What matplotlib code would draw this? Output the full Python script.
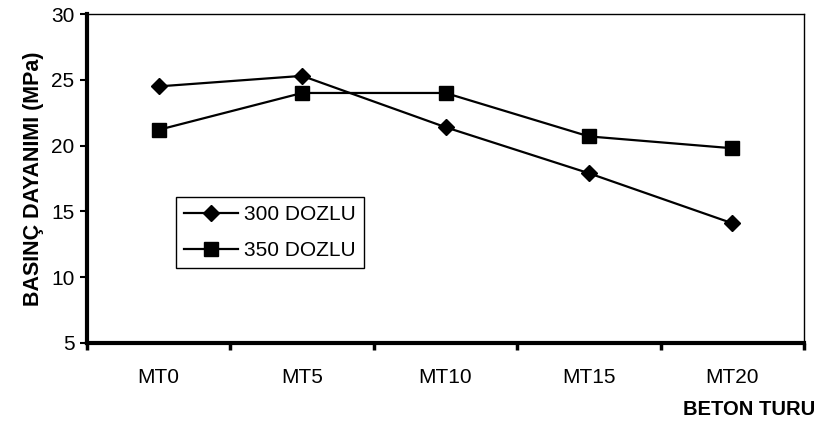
import matplotlib.pyplot as plt

plt.rcParams['font.family'] = ['Liberation Sans', 'DejaVu Sans']

categories = ['MT0', 'MT5', 'MT10', 'MT15', 'MT20']
doz300 = [24.5, 25.3, 21.4, 17.9, 14.1]
doz350 = [21.2, 24.0, 24.0, 20.7, 19.8]

x = [i + 0.5 for i in range(len(categories))]

fig = plt.figure(figsize=(8.25, 4.25), dpi=100)
ax = fig.add_axes([0.1055, 0.193, 0.869, 0.774])

ax.plot(x, doz300, color='black', lw=1.6, marker='D', ms=8, label='300 DOZLU')
ax.plot(x, doz350, color='black', lw=1.6, marker='s', ms=9.5, label='350 DOZLU')

ax.set_xlim(0, len(categories))
ax.set_ylim(5, 30)
ax.set_yticks([5, 10, 15, 20, 25, 30])
ax.set_xticks(range(len(categories) + 1))
ax.set_xticklabels([])
ax.set_xticks(x, minor=True)
ax.set_xticklabels(categories, minor=True)
ax.tick_params(axis='x', which='minor', length=0, pad=18, labelsize=15)
ax.tick_params(axis='x', which='major', direction='out', length=5, width=2.5)
ax.tick_params(axis='y', direction='out', length=5, width=1.5, labelsize=15, pad=4)

ax.spines['left'].set_linewidth(3)
ax.spines['bottom'].set_linewidth(3)
ax.spines['top'].set_linewidth(1)
ax.spines['right'].set_linewidth(1)

ax.set_ylabel('BASINÇ DAYANIMI (MPa)', fontsize=15.5, fontweight='bold', labelpad=5)
fig.text(0.988, 0.015, 'BETON TURU', fontsize=14.5, fontweight='bold', ha='right', va='bottom')

leg = ax.legend(loc='upper left', bbox_to_anchor=(0.124, 0.444), borderaxespad=0,
                fancybox=False, edgecolor='black', fontsize=15, handlelength=2.6,
                handletextpad=0.25, labelspacing=0.8, borderpad=0.4, framealpha=1)
leg.get_frame().set_linewidth(1)

fig.savefig('out.png', dpi=100)
